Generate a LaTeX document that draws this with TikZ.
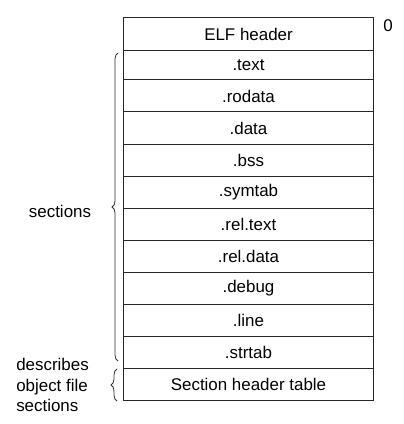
\documentclass[tikz,border=0pt]{standalone}
\usepackage{fontspec}
\setmainfont{Liberation Sans}
\usetikzlibrary{decorations.pathreplacing}
\begin{document}
\begin{tikzpicture}[x=0.75pt,y=-0.75pt,
  font=\fontsize{12.7pt}{15.4pt}\selectfont,
  rowbox/.style={draw=black!85,line width=0.75pt,minimum width=250*0.75pt,inner sep=0pt,anchor=center},
  lbl/.style={inner sep=0pt},
  bracestyle/.style={decorate,decoration={brace,amplitude=4.5pt},line width=0.6pt,draw=black!80}]
\useasboundingbox (0,0) rectangle (403,424);
\def\rowtab{elf/18/50.5/ELF header,text/50.5/80/.text,rodata/80/112/.rodata,data/112/144/.data,bss/144/176/.bss,symtab/176/208/.symtab,reltext/208/240/.rel.text,reldata/240/272/.rel.data,debug/272/304/.debug,line/304/336/.line,strtab/336/368/.strtab,sht/368/400/Section header table}
\foreach \n/\a/\b/\t in \rowtab {
  \pgfmathsetmacro\h{(\b-\a)*0.75}
  \node[rowbox,minimum height=\h pt] (\n) at (248.5,{(\a+\b)/2}) {\t};
}
\node[lbl,anchor=north west] (zero) at (383,19) {0};
\coordinate (b1s) at (118,361);
\coordinate (b1e) at (118,53);
\draw[bracestyle] (b1s) -- (b1e);
\node[lbl] (sec) at (60,211) {sections};
\coordinate (b2s) at (117,401);
\coordinate (b2e) at (117,369);
\draw[bracestyle] (b2s) -- (b2e);
\node[lbl,anchor=west,align=left] (desc) at (16,385) {describes\\object file\\sections};
\end{tikzpicture}
\end{document}
